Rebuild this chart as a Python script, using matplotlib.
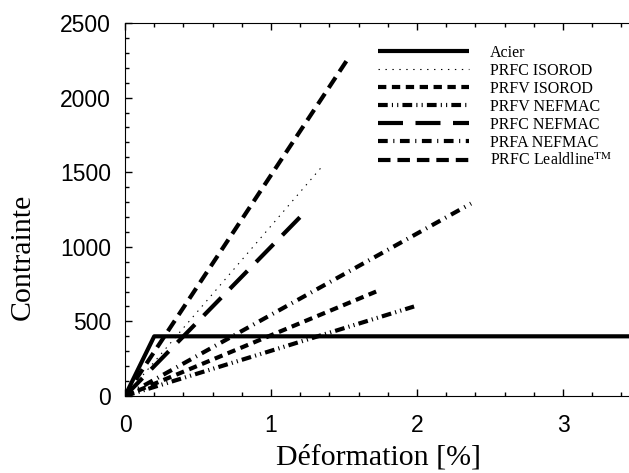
import matplotlib
matplotlib.use('Agg')
import matplotlib.pyplot as plt
from matplotlib.ticker import MultipleLocator

plt.rcParams['lines.scale_dashes'] = False
plt.rcParams['mathtext.fontset'] = 'stix'

# strain [%] and stress [MPa] for each bar type
acier_x = [0, 0.2, 3.5]
acier_y = [0, 400, 400]

labels = ['PRFC ISOROD', 'PRFV ISOROD', 'PRFV NEFMAC', 'PRFC NEFMAC',
          'PRFA NEFMAC', r'PRFC Lealdline$^{\mathrm{TM}}$']
rupture_strain = [1.36, 1.72, 1.98, 1.20, 2.37, 1.52]
rupture_stress = [1550, 700, 600, 1200, 1290, 2250]

# line styles: (linewidth, dash pattern in points)
styles = [
    (0.8, (1, 4)),
    (3, (6, 4)),
    (3, (7, 3, 0.8, 3, 0.8, 3)),
    (3, (18, 9)),
    (3, (7, 4, 0.8, 4)),
    (3, (9, 5)),
]

fig = plt.figure(figsize=(6.29, 4.73), dpi=100)
ax = fig.add_axes([125 / 629, 1 - 396 / 473, 511 / 629, 373 / 473])

ax.plot(acier_x, acier_y, color='black', lw=3, label='Acier', solid_capstyle='butt')
for lab, ex, ey, (lw, dash) in zip(labels, rupture_strain, rupture_stress, styles):
    ax.plot([0, ex], [0, ey], color='black', lw=lw, dashes=dash, label=lab,
            dash_capstyle='butt')

ax.set_xlim(0, 3.5)
ax.set_ylim(0, 2500)
ax.xaxis.set_major_locator(MultipleLocator(1))
ax.xaxis.set_minor_locator(MultipleLocator(0.2))
ax.yaxis.set_major_locator(MultipleLocator(500))
ax.yaxis.set_minor_locator(MultipleLocator(100))
ax.tick_params(which='both', direction='in', top=True, right=True, width=1)
ax.tick_params(which='major', length=5, labelsize=16.5)
ax.tick_params(axis='x', which='major', pad=13)
ax.tick_params(axis='y', which='major', pad=10)
ax.tick_params(which='minor', length=3)
for lbl in ax.get_xticklabels() + ax.get_yticklabels():
    lbl.set_fontfamily('Liberation Sans')

fig.text(378 / 629, 1 - 457 / 473, 'Déformation [%]', fontsize=21.5,
         family='Liberation Serif', ha='center', va='center')
fig.text(23 / 629, 1 - 257 / 473, 'Contrainte', fontsize=21.5,
         family='Liberation Serif', ha='center', va='center', rotation=90)

ax.legend(loc='upper left', bbox_to_anchor=(378 / 629, 1 - 45 / 473),
          bbox_transform=fig.transFigure, frameon=False, borderpad=0,
          borderaxespad=0, handlelength=5.7, handletextpad=1.3,
          labelspacing=0.12, prop={'family': 'Liberation Serif', 'size': 11.5})

fig.savefig('out.png', dpi=100)
